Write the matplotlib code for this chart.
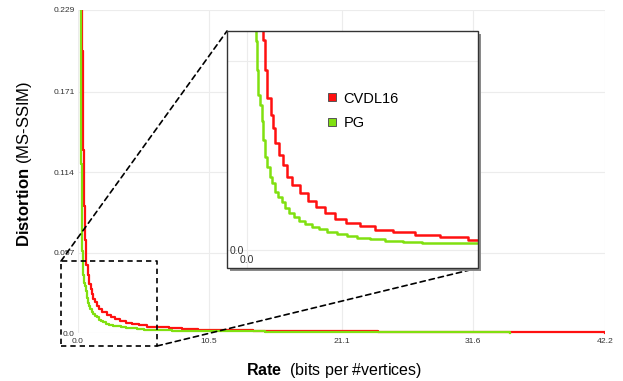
import matplotlib
matplotlib.use("Agg")
import matplotlib.pyplot as plt
from matplotlib.lines import Line2D
from matplotlib.patches import Rectangle, ConnectionPatch
from matplotlib.transforms import Bbox, TransformedBbox

plt.rcParams['font.family'] = ['Liberation Sans', 'DejaVu Sans']
plt.rcParams['mathtext.fontset'] = 'custom'
plt.rcParams['mathtext.bf'] = 'Liberation Sans:bold'
plt.rcParams['mathtext.rm'] = 'Liberation Sans'

# ---- data (rate in bits per #vertices, distortion MS-SSIM) ----
cvdl16_rate = [0.28, 0.34, 0.40, 0.47, 0.56, 0.68, 0.78, 0.88, 1.03, 1.14, 1.21, 1.40,
               1.54, 1.72, 1.95, 2.29, 2.64, 2.99, 3.38, 3.81, 4.29, 4.89, 5.54,
               6.32, 7.27, 8.36, 9.57, 11.5, 14.0, 18.0, 24.0, 30.0, 36.0, 42.2]
cvdl16_dist = [0.30, 0.20, 0.13, 0.09, 0.066, 0.048, 0.0412, 0.0347, 0.0309, 0.0279,
               0.0244, 0.0217, 0.0194, 0.0167, 0.0148, 0.0130, 0.0112, 0.0099, 0.0085,
               0.0071, 0.0062, 0.0055, 0.0046, 0.0040, 0.0034, 0.0029, 0.0023, 0.0019,
               0.0015, 0.0011, 0.0008, 0.0006, 0.0004, 0.0003]

pg_rate = [0.20, 0.24, 0.28, 0.33, 0.36, 0.377, 0.42, 0.46, 0.56, 0.64, 0.71, 0.78,
           0.88, 1.00, 1.10, 1.21, 1.35, 1.50, 1.65, 1.83, 2.03, 2.26, 2.51, 2.80,
           3.13, 3.48, 3.88, 4.32, 4.75, 5.32, 5.97, 6.77, 7.56, 8.48, 11.0, 15.0,
           20.0, 26.0, 31.0, 34.6]
pg_dist = [0.30, 0.20, 0.12, 0.075, 0.058, 0.0477, 0.0412, 0.0355, 0.0332, 0.0295,
           0.0251, 0.0213, 0.0190, 0.0167, 0.0152, 0.0133, 0.0122, 0.0110, 0.0095,
           0.0085, 0.0075, 0.0067, 0.0059, 0.0053, 0.0047, 0.0042, 0.0037, 0.0032,
           0.0028, 0.0024, 0.0021, 0.0019, 0.0017, 0.0015, 0.0012, 0.0009, 0.0007,
           0.0005, 0.0004, 0.0003]

x_ticks = [0.0, 10.5, 21.1, 31.6, 42.2]
x_tick_labels = ["0.0", "10.5", "21.1", "31.6", "42.2"]
y_ticks = [0.0, 0.057, 0.114, 0.171, 0.229]
y_tick_labels = ["0.0", "0.057", "0.114", "0.171", "0.229"]

series_names = ["CVDL16", "PG"]
RED = "#ff1010"
GREEN = "#80e010"

W, H = 623, 381
fig = plt.figure(figsize=(W / 100, H / 100), dpi=100)

def px_rect(l, t, r, b):
    return [l / W, 1 - b / H, (r - l) / W, (b - t) / H]

# ---- main axes ----
ax = fig.add_axes(px_rect(78, 10, 605, 333))
ax.set_xlim(0, 42.2)
ax.set_ylim(0, 0.229)
for s in ax.spines.values():
    s.set_visible(False)
ax.set_xticks(x_ticks)
ax.set_xticklabels(x_tick_labels)
ax.set_yticks(y_ticks)
ax.set_yticklabels(y_tick_labels)
ax.tick_params(length=0, labelsize=6.1, labelcolor="#333333")
ax.tick_params(axis='y', pad=2.5)
ax.tick_params(axis='x', pad=3.5)
ax.grid(True, color="#ececec", lw=0.8)
ax.set_axisbelow(True)

clipbox = TransformedBbox(Bbox([[0, -0.03], [1, 1]]), ax.transAxes)
l1, = ax.plot(cvdl16_rate, cvdl16_dist, drawstyle='steps-post', color=RED, lw=1.6)
l2, = ax.plot(pg_rate, pg_dist, drawstyle='steps-post', color=GREEN, lw=1.6)
for l in (l1, l2):
    l.set_clip_box(clipbox)

# dashed zoom box on main axes
dash = (0, (3.2, 2.4))
bx0, bx1, by0, by1 = -1.36, 6.33, -0.0092, 0.051
ax.plot([bx0, bx1, bx1, bx0, bx0], [by0, by0, by1, by1, by0], color="black",
        lw=1.2, linestyle=dash, clip_on=False, zorder=5)

fig.text(25 / W, 1 - 164 / H, r"$\bf{Distortion}$ (MS-SSIM)", rotation=90,
         ha='center', va='center', fontsize=12)
fig.text(334 / W, 1 - 371 / H, r"$\bf{Rate}$  (bits per #vertices)",
         ha='center', va='center', fontsize=11.5)

# ---- inset ----
inl, intop, inr, inb = 227, 31, 478, 268
shadow = Rectangle(((inl + 3) / W, 1 - (inb + 3) / H), (inr - inl) / W, (inb - intop) / H,
                   transform=fig.transFigure, facecolor="#8a8a8a", edgecolor='none', zorder=8)
fig.patches.append(shadow)

axin = fig.add_axes(px_rect(inl, intop, inr, inb))
axin.set_zorder(10)
axin.set_xlim(-20 / 23.1, 10.0)
axin.set_ylim(-18 / 4380, 0.05)
axin.set_facecolor("white")
# tick labels sit at the data zero lines
axin.spines['left'].set_position(('data', 0))
axin.spines['bottom'].set_position(('data', 0))
for s in axin.spines.values():
    s.set_color('none')
axin.add_patch(Rectangle((0, 0), 1, 1, transform=axin.transAxes, fill=False,
                         edgecolor="#333333", lw=1.0, clip_on=False, zorder=20))
axin.set_xticks([0.0])
axin.set_xticklabels(["0.0"])
axin.set_yticks([0.0, 0.0432])
axin.set_yticklabels(["0.0", ""])
axin.tick_params(length=0, labelsize=7.5, labelcolor="#333333")
axin.tick_params(axis='x', pad=3.5)
axin.tick_params(axis='y', pad=2)
axin.grid(True, color="#ececec", lw=0.8)
axin.set_axisbelow(True)
axin.plot(cvdl16_rate, cvdl16_dist, drawstyle='steps-post', color=RED, lw=1.8)
axin.plot(pg_rate, pg_dist, drawstyle='steps-post', color=GREEN, lw=1.8)

handles = [Line2D([], [], marker='s', linestyle='none', markersize=5.5,
                  markerfacecolor=c, markeredgecolor="#555555", markeredgewidth=0.7)
           for c in (RED, GREEN)]
axin.legend(handles, series_names, loc='upper left', bbox_to_anchor=(0.343, 0.80),
            frameon=False, fontsize=10.5, handlelength=0.8, handletextpad=0.4,
            labelspacing=0.75, borderpad=0.4)

# connector lines
for xyA, xyB in [((bx0, by1), (0, 1)), ((bx1, by0), (1, 0))]:
    cp = ConnectionPatch(xyA=xyA, coordsA=ax.transData, xyB=xyB, coordsB=axin.transAxes,
                         color="black", lw=1.2, linestyle=dash, zorder=6)
    fig.add_artist(cp)

fig.savefig("out.png", dpi=100)
